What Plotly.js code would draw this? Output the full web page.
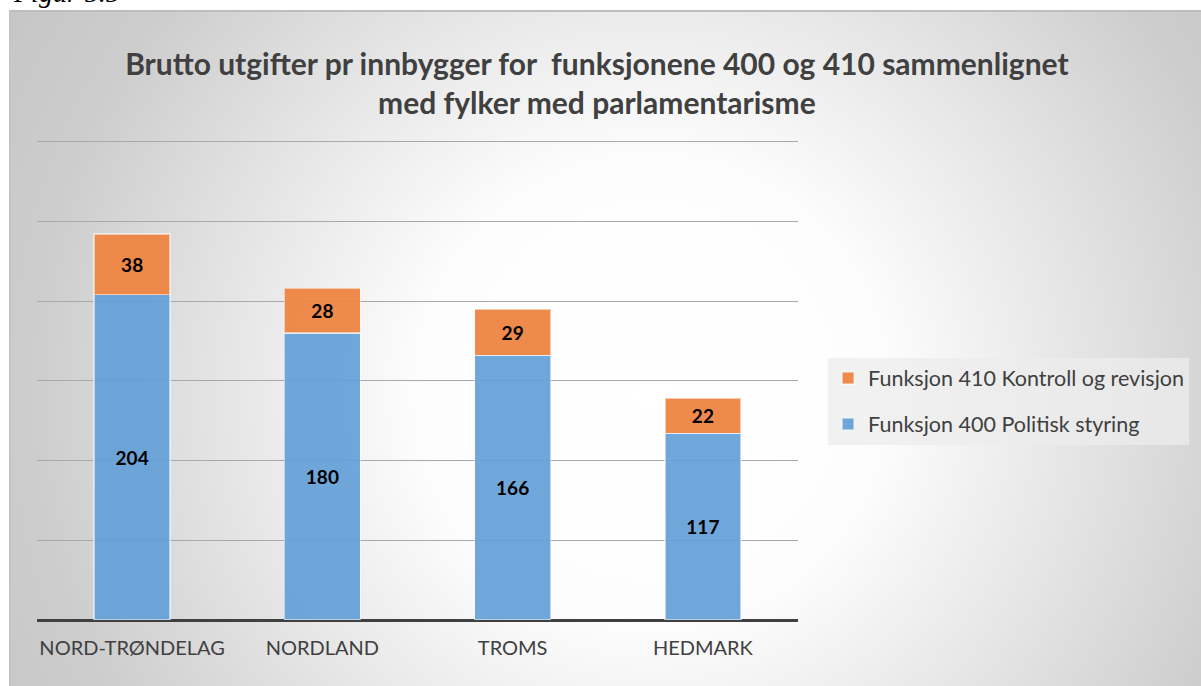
<!DOCTYPE html>
<html>
<head>
<meta charset="utf-8">
<script src="https://cdn.plot.ly/plotly-3.0.1.min.js"></script>
<style>
  html, body { margin: 0; padding: 0; background: #ffffff; width: 1201px; height: 686px; overflow: hidden; }
  #bg {
    position: absolute; left: 9px; top: 10px; width: 1192px; height: 676px;
    box-sizing: border-box;
    border-top: 2px solid #bdbdbd; border-left: 2px solid #c4c4c4;
    background: radial-gradient(circle 820px at 640px 380px, #ffffff 0px, #fdfdfd 230px, #e6e6e6 420px, #cdcdcd 620px, #c2c2c2 820px);
  }
  #chart { position: absolute; left: 0; top: 0; width: 1201px; height: 686px; }
</style>
</head>
<body>
<div id="bg"></div>
<div id="chart"></div>
<script>
const categories = ['NORD-TRØNDELAG', 'NORDLAND', 'TROMS', 'HEDMARK'];
const politiskStyring = [204, 180, 166, 117];   // Funksjon 400
const kontrollRevisjon = [38, 28, 29, 22];       // Funksjon 410
const seriesNames = ['Funksjon 400 Politisk styring', 'Funksjon 410 Kontroll og revisjon'];
const titleText = 'Brutto utgifter pr innbygger for  funksjonene 400 og 410 sammenlignet<br>med fylker med parlamentarisme';

const FONT = 'Lato, "Open Sans", sans-serif';

const traces = [
  {
    type: 'bar', name: seriesNames[0], x: categories, y: politiskStyring,
    legendgroup: 'b', legendrank: 2,
    marker: { color: 'rgba(100,160,216,0.92)', line: { color: 'rgba(255,255,255,0.55)', width: 1.5 } },
    text: politiskStyring.map(String), textposition: 'inside', insidetextanchor: 'middle',
    textfont: { family: FONT, size: 19, color: '#000000', weight: 'bold' },
    hoverinfo: 'x+y'
  },
  {
    type: 'bar', name: seriesNames[1], x: categories, y: kontrollRevisjon,
    legendgroup: 'a', legendrank: 1,
    marker: { color: 'rgba(237,132,66,0.95)', line: { color: 'rgba(255,255,255,0.55)', width: 1.5 } },
    text: kontrollRevisjon.map(String), textposition: 'inside', insidetextanchor: 'middle',
    textfont: { family: FONT, size: 19, color: '#000000', weight: 'bold' },
    hoverinfo: 'x+y'
  }
];

const layout = {
  width: 1201, height: 686,
  paper_bgcolor: 'rgba(0,0,0,0)', plot_bgcolor: 'rgba(0,0,0,0)',
  margin: { l: 36.5, r: 400.5, t: 140.4, b: 66, pad: 0 },
  barmode: 'stack', bargap: 0.6,
  font: { family: FONT, color: '#404040' },
  title: {
    text: titleText,
    font: { family: FONT, size: 30, color: '#404040', weight: 'bold' },
    x: 0.497, xref: 'container', xanchor: 'center',
    y: 0.891, yref: 'container', yanchor: 'top'
  },
  xaxis: {
    type: 'category', showgrid: false, showline: false, ticks: '',
    tickfont: { family: FONT, size: 20, color: '#404040' },
    ticklabelstandoff: 14
  },
  yaxis: {
    range: [0, 301], tick0: 0, dtick: 50, showticklabels: false, ticks: '',
    showgrid: true, gridcolor: '#a9a9a9', gridwidth: 1,
    zeroline: true, zerolinecolor: '#404040', zerolinewidth: 3, showline: false, fixedrange: true
  },
  legend: {
    orientation: 'v', traceorder: 'grouped', tracegroupgap: 15,
    x: 1.0395, xanchor: 'left', y: 0.456, yanchor: 'middle',
    bgcolor: 'rgba(236,236,236,0.75)', borderwidth: 0,
    font: { family: FONT, size: 21.5, color: '#404040' }
  },
  annotations: [
    {
      text: 'Figur 5.5', showarrow: false,
      xref: 'paper', yref: 'paper', x: -0.0347, y: (620 - 11) / 479.6,
      xanchor: 'left', yanchor: 'bottom',
      font: { family: '"Liberation Serif", "DejaVu Serif", serif', size: 28, color: '#000000', style: 'italic' }
    }
  ],
  showlegend: true
};

Plotly.newPlot('chart', traces, layout, { displayModeBar: false, staticPlot: true });
</script>
</body>
</html>
